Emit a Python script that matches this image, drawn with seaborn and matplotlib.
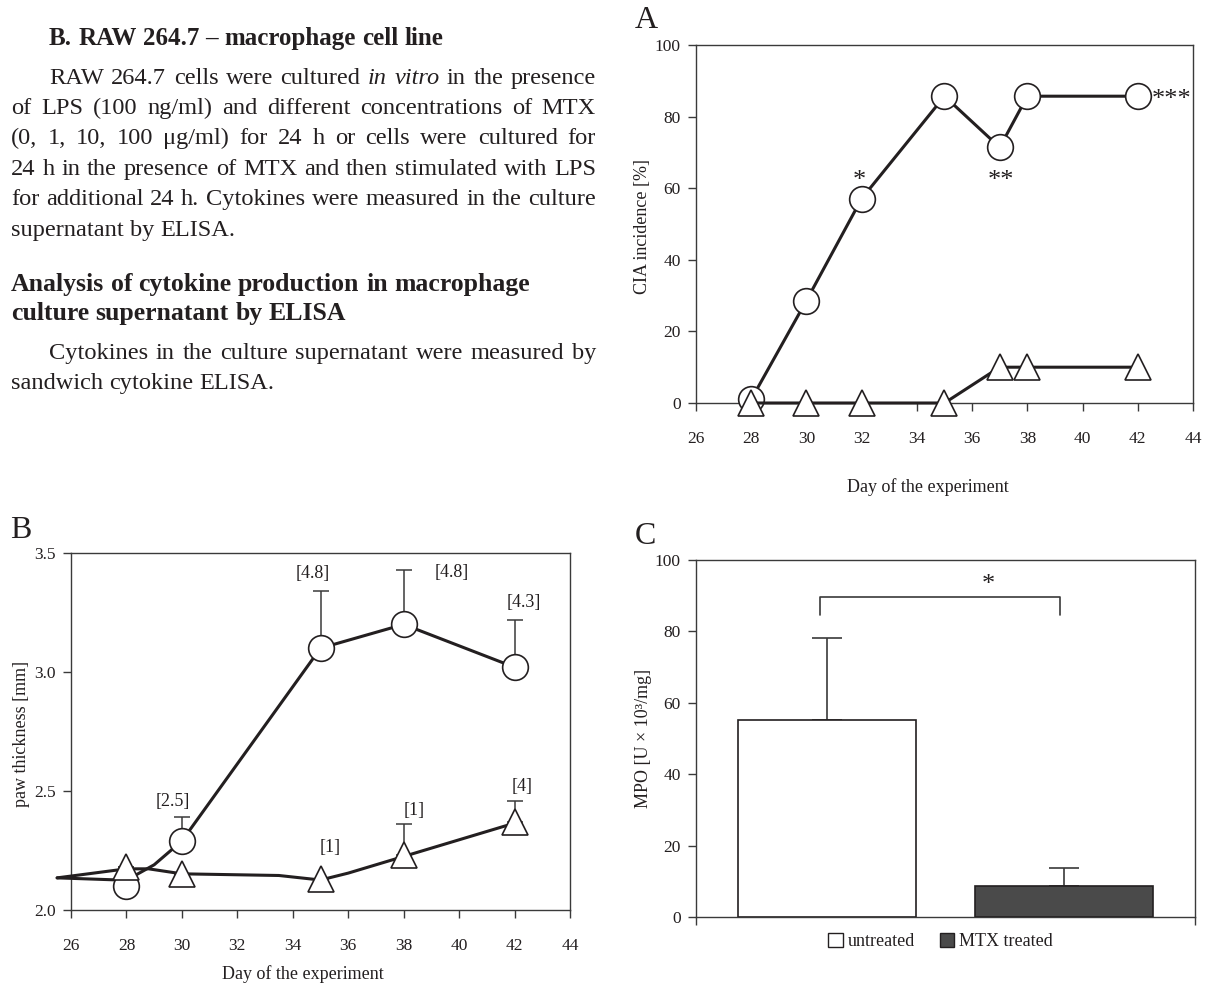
import matplotlib
matplotlib.use("Agg")
import matplotlib.pyplot as plt
import seaborn as sns
from matplotlib.patches import Patch

# ---- data ----
# A: CIA incidence [%]
a_days = [28, 30, 32, 35, 37, 38, 42]
a_untreated = [1, 28.6, 57.1, 85.7, 71.4, 85.7, 85.7]
a_mtx = [0, 0, 0, 0, 10, 10, 10]

# B: paw thickness [mm]
b_days = [28, 30, 35, 38, 42]
b_untreated = [2.10, 2.29, 3.10, 3.20, 3.02]
b_untreated_sd = [0, 0.10, 0.24, 0.23, 0.20]
b_mtx = [2.18, 2.15, 2.13, 2.23, 2.37]
b_mtx_sd = [0, 0, 0, 0.13, 0.09]
# smoothed traces as drawn in the original
b_trace_u_days = [25.5, 28, 29, 30, 35, 38, 42]
b_trace_u = [2.135, 2.125, 2.19, 2.29, 3.10, 3.20, 3.02]
b_trace_m_days = [25.5, 28, 28.8, 30, 33.5, 35, 36, 38, 42]
b_trace_m = [2.135, 2.173, 2.173, 2.152, 2.145, 2.126, 2.155, 2.225, 2.365]
b_scores = ['[2.5]', '[4.8]', '[4.8]', '[4.3]', '[1]', '[1]', '[4]']
b_score_x = [29.66, 34.72, 39.72, 42.35, 35.34, 38.37, 42.28]
b_score_y = [2.454, 3.413, 3.42, 3.29, 2.264, 2.42, 2.517]

# C: MPO
c_groups = ['untreated', 'MTX treated']
c_mpo = [55.3, 8.6]
c_sd = [22.8, 5.2]

W, H = 1210, 986
INK = '#231f20'
SPINE = '#3a3a3a'

sns.set_theme(style="white")
plt.rcParams['font.family'] = ['Liberation Serif', 'DejaVu Serif']
plt.rcParams['text.color'] = INK
plt.rcParams['axes.labelcolor'] = INK
plt.rcParams['xtick.color'] = INK
plt.rcParams['ytick.color'] = INK

fig = plt.figure(figsize=(W / 100, H / 100), dpi=100)
fig.patch.set_facecolor('white')

# ---- text column ----
renderer = fig.canvas.get_renderer()
BODY = 17.6


def put_line(words, base, x0, x1=None, size=BODY, weight='normal'):
    objs = []
    for w in words:
        style = 'normal'
        if isinstance(w, tuple):
            w, style = w
        objs.append(fig.text(0, 1 - base / H, w, fontsize=size, fontstyle=style,
                             fontweight=weight, va='baseline', ha='left'))
    widths = [t.get_window_extent(renderer).width for t in objs]
    if x1 is not None and len(objs) > 1:
        gap = (x1 - x0 - sum(widths)) / (len(objs) - 1)
    else:
        gap = size * 0.25 * 100 / 72
    x = x0
    for t, wd in zip(objs, widths):
        t.set_x(x / W)
        x += wd + gap


L, IND, R = 11, 49, 596
put_line("B. RAW 264.7 – macrophage cell line".split(), 45, IND, size=18, weight='bold')
put_line(["RAW", "264.7", "cells", "were", "cultured", ("in", "italic"), ("vitro", "italic"),
          "in", "the", "presence"], 84, IND, R)
put_line("of LPS (100 ng/ml) and different concentrations of MTX".split(), 114, L, R)
put_line("(0, 1, 10, 100 μg/ml) for 24 h or cells were cultured for".split(), 144, L, R)
put_line("24 h in the presence of MTX and then stimulated with LPS".split(), 175, L, R)
put_line("for additional 24 h. Cytokines were measured in the culture".split(), 205, L, R)
put_line("supernatant by ELISA.".split(), 236, L)
put_line("Analysis of cytokine production in macrophage".split(), 291, L, size=18.5,
         weight='bold')
put_line("culture supernatant by ELISA".split(), 320, L, size=18.5, weight='bold')
put_line("Cytokines in the culture supernatant were measured by".split(), 359, IND, R)
put_line("sandwich cytokine ELISA.".split(), 389, L)

# ---- axes ----
axA = fig.add_axes([696 / W, 1 - 403 / H, 497 / W, 358 / H])
axB = fig.add_axes([71 / W, 1 - 910 / H, 499 / W, 357 / H])
axC = fig.add_axes([696 / W, 1 - 917 / H, 499 / W, 357 / H])


def frame(ax):
    for s in ax.spines.values():
        s.set_visible(True)
        s.set_color(SPINE)
        s.set_linewidth(1.0)
    ax.tick_params(axis='both', direction='out', length=6, width=1.0, color=SPINE,
                   labelsize=12.5, bottom=True, left=True)
    ax.tick_params(axis='x', pad=14)
    ax.tick_params(axis='y', pad=5)
    ax.grid(False)


circ = dict(marker='o', markersize=18.5, markerfacecolor='white', markeredgecolor=INK,
            markeredgewidth=1.2)
tri = dict(marker='^', markersize=19, markerfacecolor='white', markeredgecolor=INK,
           markeredgewidth=1.2)

# A
frame(axA)
sns.lineplot(x=a_days, y=a_untreated, ax=axA, color=INK, lw=2.2, clip_on=False, zorder=3, **circ)
sns.lineplot(x=a_days, y=a_mtx, ax=axA, color=INK, lw=2.2, clip_on=False, zorder=4, **tri)
axA.set_xlim(26, 44)
axA.set_ylim(0, 100)
axA.set_xticks(range(26, 45, 2))
axA.set_yticks(range(0, 101, 20))
axA.set_xlabel('')
axA.set_ylabel('')
axA.text(0.467, -0.235, 'Day of the experiment', transform=axA.transAxes, ha='center',
         va='center', fontsize=13)
axA.text(-0.107, 0.494, 'CIA incidence [%]', transform=axA.transAxes, ha='center',
         va='center', rotation=90, fontsize=13)
axA.text(31.9, 62, '*', ha='center', va='center', fontsize=19)
axA.text(37.05, 62, '**', ha='center', va='center', fontsize=19)
axA.text(42.5, 84.5, '***', ha='left', va='center', fontsize=19)

# B
frame(axB)
axB.errorbar(b_days, b_untreated, yerr=[[0] * 5, b_untreated_sd], fmt='none', ecolor=SPINE,
             elinewidth=1.1, capsize=6, capthick=1.1, zorder=2)
axB.errorbar(b_days, b_mtx, yerr=[[0] * 5, b_mtx_sd], fmt='none', ecolor=SPINE,
             elinewidth=1.1, capsize=6, capthick=1.1, zorder=2)
sns.lineplot(x=b_trace_u_days, y=b_trace_u, ax=axB, color=INK, lw=2.2, clip_on=False,
             zorder=3, sort=False)
sns.lineplot(x=b_trace_m_days, y=b_trace_m, ax=axB, color=INK, lw=2.2, clip_on=False,
             zorder=3, sort=False)
sns.lineplot(x=b_days, y=b_untreated, ax=axB, lw=0, zorder=4, clip_on=False, **circ)
sns.lineplot(x=b_days, y=b_mtx, ax=axB, lw=0, zorder=4, clip_on=False, **tri)
for s, x, y in zip(b_scores, b_score_x, b_score_y):
    axB.text(x, y, s, ha='center', va='center', fontsize=13)
axB.set_xlim(26, 44)
axB.set_ylim(2.0, 3.5)
axB.set_xticks(range(26, 45, 2))
axB.set_yticks([2.0, 2.5, 3.0, 3.5])
axB.set_yticklabels(['2.0', '2.5', '3.0', '3.5'])
axB.set_xlabel('')
axB.set_ylabel('')
axB.text(0.465, -0.18, 'Day of the experiment', transform=axB.transAxes, ha='center',
         va='center', fontsize=13)
axB.text(-0.1, 0.493, 'paw thickness [mm]', transform=axB.transAxes, ha='center',
         va='center', rotation=90, fontsize=13)

# C
frame(axC)
sns.barplot(x=c_groups, y=c_mpo, hue=c_groups, palette=['white', '#4a4a4a'], ax=axC,
            width=0.75, edgecolor=INK, linewidth=1.2, errorbar=None, legend=False, zorder=3)
axC.errorbar([0, 1], c_mpo, yerr=[[0, 0], c_sd], fmt='none', ecolor=SPINE, elinewidth=1.2,
             capsize=11, capthick=1.2, zorder=2)
axC.plot([-0.03, -0.03, 0.98, 0.98], [84.6, 89.6, 89.6, 84.6], color=SPINE, lw=1.2)
axC.text(0.68, 93, '*', ha='center', va='center', fontsize=19)
axC.set_xlim(-0.55, 1.55)
axC.set_ylim(0, 100)
axC.set_yticks(range(0, 101, 20))
axC.set_xticks([-0.55, 1.55])
axC.set_xticklabels(['', ''])
axC.set_xlabel('')
axC.set_ylabel('')
axC.text(-0.106, 0.5, 'MPO [U × 10³/mg]', transform=axC.transAxes, ha='center',
         va='center', rotation=90, fontsize=13)
axC.legend(handles=[Patch(facecolor='white', edgecolor=INK, label='untreated'),
                    Patch(facecolor='#4a4a4a', edgecolor=INK, label='MTX treated')],
           loc='upper center', bbox_to_anchor=(0.49, -0.025), ncol=2, frameon=False,
           fontsize=13, handlelength=0.8, handleheight=0.8, handletextpad=0.25,
           columnspacing=1.4, borderaxespad=0)

# panel letters
fig.text(646 / W, 1 - 21 / H, 'A', fontsize=23, ha='center', va='center')
fig.text(21 / W, 1 - 531 / H, 'B', fontsize=23, ha='center', va='center')
fig.text(645 / W, 1 - 537 / H, 'C', fontsize=23, ha='center', va='center')

fig.savefig('out.png', dpi=100, facecolor='white')
